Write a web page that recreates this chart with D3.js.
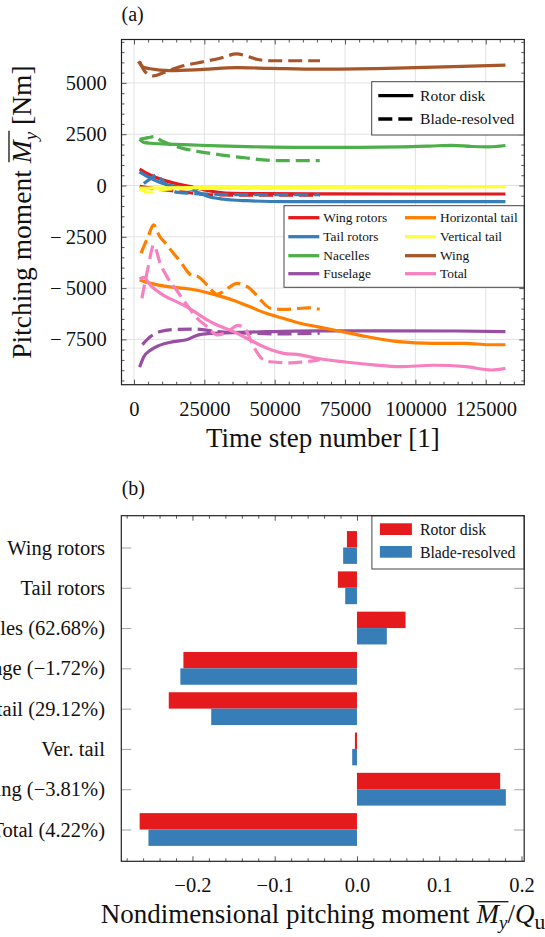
<!DOCTYPE html>
<html><head><meta charset="utf-8">
<script src="https://cdn.jsdelivr.net/npm/d3@7/dist/d3.min.js"></script>
<style>
html,body{margin:0;padding:0;background:#fff;}
svg{display:block;}
text{font-family:"Liberation Serif","Times New Roman",serif;fill:#111;}
</style></head><body>
<svg id="chart" width="545" height="937"></svg>
<script>
// ---------------- DATA: panel (a) ----------------
const xTicksTop=[0,25000,50000,75000,100000,125000];
const xTickLabelsTop=["0","25000","50000","75000","100000","125000"];
const yTicksTop=[-7500,-5000,-2500,0,2500,5000];
const yTickLabelsTop=["\u2212\u20097500","\u2212\u20095000","\u2212\u20092500","0","2500","5000"];

const componentNames=["Wing rotors","Tail rotors","Nacelles","Fuselage","Horizontal tail","Vertical tail","Wing","Total"];
const componentColors=["#e41a1c","#377eb8","#4daf4a","#984ea3","#ff7f00","#ffff33","#a65628","#f781bf"];

const wingRotorsDisk=[[2000,800],[5000,560],[8600,350],[12000,200],[16000,60],[20500,-60],[25000,-220],[30000,-330],[35000,-380],[45000,-400],[70000,-410],[100000,-415],[132000,-415]];
const wingRotorsBlade=[[2000,-40],[6000,-120],[10000,-200],[14000,-260],[18000,-320],[22000,-390],[26000,-440],[30000,-460],[45000,-470],[66000,-470]];
const tailRotorsDisk=[[2000,670],[5000,420],[8600,185],[12000,40],[16000,-80],[20500,-190],[23500,-380],[26400,-540],[32000,-670],[40000,-740],[55000,-785],[80000,-790],[132000,-790]];
const tailRotorsBlade=[[3500,100],[6000,350],[8000,520],[10000,250],[12500,-100],[15000,-320],[20000,-380],[30000,-430],[45000,-450],[66000,-450]];
const nacellesDisk=[[2000,2250],[3500,2100],[6000,2060],[12000,2020],[20000,1980],[30000,1930],[45000,1880],[60000,1860],[80000,1860],[95000,1880],[105000,1920],[113000,1960],[120000,1900],[126000,1880],[132000,1950]];
const nacellesBlade=[[2000,2250],[5000,2330],[7500,2390],[9500,2200],[12000,2050],[17000,1820],[22000,1680],[28000,1550],[34000,1430],[40000,1340],[46000,1250],[52000,1210],[66000,1210]];
const fuselageDisk=[[2000,-8850],[3500,-8350],[6000,-8010],[9000,-7790],[14000,-7610],[19000,-7500],[22000,-7320],[27000,-7210],[35000,-7170],[47000,-7120],[65000,-7080],[90000,-7080],[115000,-7090],[132000,-7120]];
const fuselageBlade=[[3000,-7750],[6000,-7350],[9000,-7130],[15000,-7010],[22000,-7000],[29000,-7110],[41000,-7200],[53000,-7230],[66000,-7200]];
const horTailDisk=[[2000,-4600],[6000,-4770],[12000,-4930],[18000,-5010],[22000,-5090],[29000,-5330],[35000,-5580],[41000,-5900],[47000,-6230],[53000,-6470],[59000,-6710],[65000,-6880],[71000,-7040],[83000,-7370],[94000,-7610],[106000,-7690],[118000,-7690],[126000,-7760],[132000,-7760]];
const horTailBlade=[[2500,-3300],[5000,-2500],[7000,-1920],[9000,-2450],[11700,-2900],[14000,-3300],[16500,-3710],[19000,-4200],[20500,-4380],[22500,-4420],[26000,-4850],[29500,-5300],[32000,-5150],[34000,-4950],[36500,-4770],[39000,-4850],[41500,-5050],[45000,-5580],[48500,-5980],[53000,-6040],[58000,-6000],[62000,-5960],[66000,-6030]];
const verTailDisk=[[2000,-130],[10000,-110],[30000,-100],[60000,-90],[100000,-75],[132000,-60]];
const verTailBlade=[[2000,-150],[5000,-330],[8000,-250],[12000,-180],[20000,-150],[40000,-140],[66000,-130]];
const wingDisk=[[1600,6050],[3300,5760],[5700,5690],[12800,5600],[24600,5660],[36500,5740],[48300,5710],[66100,5670],[89800,5710],[113500,5790],[132000,5870]];
const wingBlade=[[2000,6050],[3900,5550],[6900,5340],[10400,5500],[16300,5790],[24600,6030],[30600,6200],[36500,6410],[40000,6310],[43600,6150],[48300,6080],[66100,6080]];
const totalDisk=[[2000,-4560],[3400,-4470],[5800,-4850],[10400,-5340],[15100,-5660],[18800,-5910],[22400,-6230],[26000,-6550],[29500,-6800],[35400,-7120],[41300,-7530],[47300,-7930],[53200,-8180],[59100,-8250],[65000,-8420],[75000,-8600],[85000,-8740],[94400,-8830],[106400,-8760],[118000,-8830],[127000,-8990],[132000,-8910]];
const totalBlade=[[2800,-5500],[5000,-4000],[7000,-2900],[9300,-3790],[11700,-4440],[15100,-5090],[18800,-5820],[22400,-6470],[26000,-6880],[29500,-7280],[33000,-7150],[37000,-6820],[39500,-7000],[42500,-7850],[46000,-8500],[48400,-8590],[55500,-8640],[60000,-8600],[66000,-8500]];

// ---------------- DATA: panel (b) ----------------
const barCategories=["Wing rotors","Tail rotors","Nacelles (62.68%)","Fuselage (\u22121.72%)","Hor. tail (29.12%)","Ver. tail","Wing (\u22123.81%)","Total (4.22%)"];
const rotorDiskValues=[-0.0122,-0.0232,0.0590,-0.2110,-0.2288,-0.0025,0.1741,-0.2642];
const bladeResolvedValues=[-0.0168,-0.0143,0.0363,-0.2147,-0.1772,-0.0058,0.1810,-0.2535];
const xTicksBottom=[-0.2,-0.1,0.0,0.1,0.2];
const xTickLabelsBottom=["\u22120.2","\u22120.1","0.0","0.1","0.2"];

// ---------------- DRAW ----------------
const svg=d3.select("#chart");
const serif='"Liberation Serif","Times New Roman",serif';

function styleAxis(a,fs){
  a.attr("font-family",serif);
  a.select(".domain").remove();
  a.selectAll("line").attr("stroke","#444").attr("stroke-width",0.9);
  a.selectAll("text").attr("font-size",fs).attr("fill","#111");
  return a;
}

// ===== panel (a)
const A={l:121.5,r:524.3,t:39.5,b:384.7};
const xA=d3.scaleLinear().domain([-4440,138700]).range([A.l,A.r]);
const yA=d3.scaleLinear().domain([-9707,7115]).range([A.b,A.t]);
const gA=svg.append("g");

gA.append("text").attr("x",121.5).attr("y",21).attr("font-size",20).text("(a)");

// grid
gA.append("g").selectAll("line").data(xTicksTop).join("line")
  .attr("x1",d=>xA(d)).attr("x2",d=>xA(d)).attr("y1",A.t).attr("y2",A.b)
  .attr("stroke","#e2e2e2").attr("stroke-width",1);
gA.append("g").selectAll("line").data(yTicksTop).join("line")
  .attr("y1",d=>yA(d)).attr("y2",d=>yA(d)).attr("x1",A.l).attr("x2",A.r)
  .attr("stroke","#e2e2e2").attr("stroke-width",1);

const series=[
  [wingRotorsDisk,wingRotorsBlade],[tailRotorsDisk,tailRotorsBlade],[nacellesDisk,nacellesBlade],
  [fuselageDisk,fuselageBlade],[horTailDisk,horTailBlade],[verTailDisk,verTailBlade],
  [wingDisk,wingBlade],[totalDisk,totalBlade]];
const lineGen=d3.line().x(d=>xA(d[0])).y(d=>yA(d[1])).curve(d3.curveMonotoneX);
const gLines=gA.append("g");
series.forEach((s,i)=>{
  gLines.append("path").datum(s[0]).attr("d",lineGen).attr("fill","none")
    .attr("stroke",componentColors[i]).attr("stroke-width",3.2).attr("stroke-linejoin","round");
  gLines.append("path").datum(s[1]).attr("d",lineGen).attr("fill","none")
    .attr("stroke",componentColors[i]).attr("stroke-width",3.2).attr("stroke-dasharray","14,6");
});

// axes (inward ticks)
const xMinorA=d3.range(0,138000,5000).filter(v=>v%25000!==0);
const yMinorA=d3.range(-9500,7001,500).filter(v=>v%2500!==0);
styleAxis(gA.append("g").attr("transform",`translate(0,${A.b})`).call(
  d3.axisBottom(xA).tickValues(xTicksTop).tickFormat((d,i)=>xTickLabelsTop[i]).tickSizeInner(-5).tickSizeOuter(0).tickPadding(16.5)),20.5);
styleAxis(gA.append("g").attr("transform",`translate(0,${A.b})`).call(
  d3.axisBottom(xA).tickValues(xMinorA).tickFormat("").tickSizeInner(-3).tickSizeOuter(0)),20);
styleAxis(gA.append("g").attr("transform",`translate(0,${A.t})`).call(
  d3.axisTop(xA).tickValues(xTicksTop).tickFormat("").tickSizeInner(-5).tickSizeOuter(0)),20);
styleAxis(gA.append("g").attr("transform",`translate(0,${A.t})`).call(
  d3.axisTop(xA).tickValues(xMinorA).tickFormat("").tickSizeInner(-3).tickSizeOuter(0)),20);
styleAxis(gA.append("g").attr("transform",`translate(${A.l},0)`).call(
  d3.axisLeft(yA).tickValues(yTicksTop).tickFormat((d,i)=>yTickLabelsTop[i]).tickSizeInner(-5).tickSizeOuter(0).tickPadding(14.8)),20.5);
styleAxis(gA.append("g").attr("transform",`translate(${A.l},0)`).call(
  d3.axisLeft(yA).tickValues(yMinorA).tickFormat("").tickSizeInner(-3).tickSizeOuter(0)),20);
styleAxis(gA.append("g").attr("transform",`translate(${A.r},0)`).call(
  d3.axisRight(yA).tickValues(yTicksTop).tickFormat("").tickSizeInner(-5).tickSizeOuter(0)),20);
styleAxis(gA.append("g").attr("transform",`translate(${A.r},0)`).call(
  d3.axisRight(yA).tickValues(yMinorA).tickFormat("").tickSizeInner(-3).tickSizeOuter(0)),20);

// legend 1 (line style)
const L1={x:371.7,y:81.7,w:524.3-371.7,h:135-81.7};
gA.append("rect").attr("x",L1.x).attr("y",L1.y).attr("width",L1.w).attr("height",L1.h)
  .attr("fill","#fff").attr("stroke","#444").attr("stroke-width",1);
[["Rotor disk",null,95.7],["Blade-resolved","14,6",119]].forEach(r=>{
  const l=gA.append("line").attr("x1",378.3).attr("x2",413.3).attr("y1",r[2]).attr("y2",r[2])
    .attr("stroke","#000").attr("stroke-width",3.3);
  if(r[1]) l.attr("stroke-dasharray",r[1]);
  gA.append("text").attr("x",420).attr("y",r[2]+5.2).attr("font-size",15.6).text(r[0]);
});

// legend 2 (components)
gA.append("rect").attr("x",284).attr("y",205.7).attr("width",524.3-284).attr("height",287.3-205.7)
  .attr("fill","#fff").attr("stroke","#444").attr("stroke-width",1);
const rowsY=[217.7,236.7,255.7,273.7];
componentNames.forEach((n,i)=>{
  const col=Math.floor(i/4), row=i%4;
  const lx=col===0?288.3:405, tx=col===0?323.3:440;
  gA.append("line").attr("x1",lx).attr("x2",lx+31).attr("y1",rowsY[row]).attr("y2",rowsY[row])
    .attr("stroke",componentColors[i]).attr("stroke-width",3.3);
  gA.append("text").attr("x",tx).attr("y",rowsY[row]+4.5).attr("font-size",13.4).text(n);
});

// frame
gA.append("rect").attr("x",A.l).attr("y",A.t).attr("width",A.r-A.l).attr("height",A.b-A.t)
  .attr("fill","none").attr("stroke","#222").attr("stroke-width",1.2);

// axis labels
const FSL=27;
gA.append("text").attr("x",(A.l+A.r)/2).attr("y",446.7).attr("text-anchor","middle").attr("font-size",FSL).text("Time step number [1]");

const FSY=27.5;
const yLabG=gA.append("g").attr("transform",`translate(31,${(A.t+A.b)/2}) rotate(-90)`);
const yLab=yLabG.append("text").attr("x",0).attr("y",0).attr("text-anchor","middle").attr("font-size",FSY);
yLab.append("tspan").text("Pitching moment ");
yLab.append("tspan").attr("font-style","italic").text("M");
yLab.append("tspan").attr("font-style","italic").attr("font-size",FSY*0.7).attr("dy",FSY*0.22).text("y");
yLab.append("tspan").attr("dy",-FSY*0.22).text(" [Nm]");
function overline(g,textNode,i0,i1,yb,fs){
  const a=textNode.getExtentOfChar(i0), b=textNode.getExtentOfChar(i1);
  g.append("line").attr("x1",a.x+1).attr("x2",b.x+b.width+1).attr("y1",yb-0.8*fs).attr("y2",yb-0.8*fs)
    .attr("stroke","#111").attr("stroke-width",1.3);
}
overline(yLabG,yLab.node(),16,17,0,FSY);

// ===== panel (b)
const B={l:121.3,r:524.2,t:515.7,b:861.3};
const xB=d3.scaleLinear().domain([-0.2865,0.2033]).range([B.l,B.r]);
const yB=d3.scalePoint().domain(barCategories).range([B.t,B.b]).padding(0.789);
const gB=svg.append("g");
gB.append("text").attr("x",121.7).attr("y",494.5).attr("font-size",20).text("(b)");

const barH=16.4;
gB.append("g").selectAll("rect").data(rotorDiskValues).join("rect")
  .attr("x",d=>Math.min(xB(0),xB(d))).attr("width",d=>Math.abs(xB(d)-xB(0)))
  .attr("y",(d,i)=>yB(barCategories[i])-barH).attr("height",barH).attr("fill","#e41a1c");
gB.append("g").selectAll("rect").data(bladeResolvedValues).join("rect")
  .attr("x",d=>Math.min(xB(0),xB(d))).attr("width",d=>Math.abs(xB(d)-xB(0)))
  .attr("y",(d,i)=>yB(barCategories[i])).attr("height",barH).attr("fill","#377eb8");

const xMinorB=d3.range(-28,21,2).map(v=>v/100).filter(v=>Math.abs(Math.round(v*10)-v*10)>1e-6);
styleAxis(gB.append("g").attr("transform",`translate(0,${B.b})`).call(
  d3.axisBottom(xB).tickValues(xTicksBottom).tickFormat((d,i)=>xTickLabelsBottom[i]).tickSizeInner(-5).tickSizeOuter(0).tickPadding(16.5)),20.5);
styleAxis(gB.append("g").attr("transform",`translate(0,${B.b})`).call(
  d3.axisBottom(xB).tickValues(xMinorB).tickFormat("").tickSizeInner(-3).tickSizeOuter(0)),20);
styleAxis(gB.append("g").attr("transform",`translate(0,${B.t})`).call(
  d3.axisTop(xB).tickValues(xTicksBottom).tickFormat("").tickSizeInner(-5).tickSizeOuter(0)),20);
styleAxis(gB.append("g").attr("transform",`translate(0,${B.t})`).call(
  d3.axisTop(xB).tickValues(xMinorB).tickFormat("").tickSizeInner(-3).tickSizeOuter(0)),20);
const yAxB=styleAxis(gB.append("g").attr("transform",`translate(${B.l},0)`).call(
  d3.axisLeft(yB).tickSizeInner(-10).tickSizeOuter(0).tickPadding(16.3)),20.5);
yAxB.selectAll("line").attr("stroke","#999");
const yAxB2=styleAxis(gB.append("g").attr("transform",`translate(${B.r},0)`).call(
  d3.axisRight(yB).tickFormat("").tickSizeInner(-10).tickSizeOuter(0)),20);
yAxB2.selectAll("line").attr("stroke","#999");

// legend (b)
gB.append("rect").attr("x",371.9).attr("y",B.t).attr("width",B.r-371.9).attr("height",569-B.t)
  .attr("fill","#fff").attr("stroke","#444").attr("stroke-width",1);
[["Rotor disk","#e41a1c",523.3,530],["Blade-resolved","#377eb8",546,552.7]].forEach(r=>{
  gB.append("rect").attr("x",379.9).attr("y",r[2]).attr("width",32).attr("height",11.7).attr("fill",r[1]);
  gB.append("text").attr("x",419.9).attr("y",r[3]+5.3).attr("font-size",15.8).text(r[0]);
});

gB.append("rect").attr("x",B.l).attr("y",B.t).attr("width",B.r-B.l).attr("height",B.b-B.t)
  .attr("fill","none").attr("stroke","#222").attr("stroke-width",1.2);

const xLabB=gB.append("text").attr("x",100.8).attr("y",923.3).attr("font-size",FSL);
xLabB.append("tspan").text("Nondimensional pitching moment ");
xLabB.append("tspan").attr("font-style","italic").text("M");
xLabB.append("tspan").attr("font-style","italic").attr("font-size",FSL*0.7).attr("dy",FSL*0.22).text("y");
xLabB.append("tspan").attr("dy",-FSL*0.22).text("/");
xLabB.append("tspan").attr("font-style","italic").text("Q");
xLabB.append("tspan").attr("font-size",FSL*0.8).attr("dy",FSL*0.22).text("u");
overline(gB,xLabB.node(),31,32,923.3,FSL);
</script>
</body></html>
